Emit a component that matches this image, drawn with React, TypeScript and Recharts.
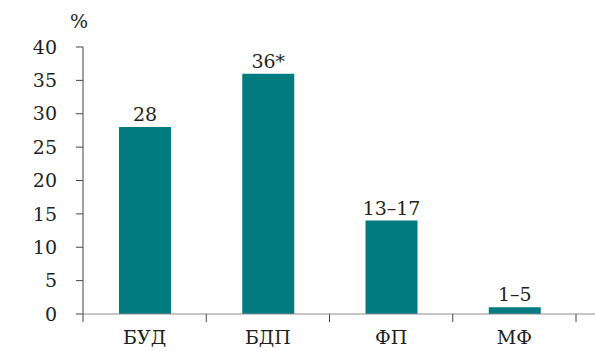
import { BarChart, Bar, XAxis, YAxis, LabelList } from 'recharts'

const categories = ['БУД', 'БДП', 'ФП', 'МФ']
const values = [28, 36, 14, 1]
const valueLabels = ['28', '36*', '13–17', '1–5']
const yTicks = [0, 5, 10, 15, 20, 25, 30, 35, 40]

const data = categories.map((name, i) => ({ name, value: values[i], label: valueLabels[i] }))

const FONT = '"DejaVu Serif", "Liberation Serif", serif'
const TEXT = '#231f20'
const TEAL = '#007b80'

function CategoryTick(props: any) {
  const { x, y, payload, index } = props
  const band = 123.25
  const left = x - band / 2
  const last = index === categories.length - 1
  return (
    <g>
      <line x1={left} x2={left} y1={y - 8} y2={y} stroke="#444" strokeWidth={1} />
      {last && <line x1={left + band} x2={left + band} y1={y - 8} y2={y} stroke="#444" strokeWidth={1} />}
      <text x={x} y={y + 22} textAnchor="middle" fill={TEXT} style={{ fontFamily: FONT, fontSize: 19 }}>
        {payload.value}
      </text>
    </g>
  )
}

export default function App() {
  return (
    <div style={{ position: 'absolute', left: 0, top: 0, width: 595, height: 351, background: '#fff' }}>
      <div
        style={{
          position: 'absolute',
          left: 70,
          top: 10,
          fontFamily: FONT,
          fontSize: 19,
          color: TEXT,
        }}
      >
        %
      </div>
      <BarChart
        width={595}
        height={351}
        data={data}
        margin={{ top: 47, right: 0, left: 0, bottom: 0 }}
      >
        <XAxis
          dataKey="name"
          height={37}
          padding={{ left: 0, right: 19 }}
          axisLine={{ stroke: '#8c8c8c' }}
          tickLine={false}
          tick={<CategoryTick />}
          interval={0}
        />
        <YAxis
          width={83}
          domain={[0, 40]}
          ticks={yTicks}
          interval={0}
          axisLine={{ stroke: '#444' }}
          tickLine={{ stroke: '#444' }}
          tickSize={7}
          tickMargin={19}
          tick={{ fill: TEXT, style: { fontFamily: FONT, fontSize: 19 } }}
        />
        <Bar dataKey="value" fill={TEAL} barSize={52} isAnimationActive={false}>
          <LabelList
            dataKey="label"
            position="top"
            offset={6}
            fill={TEXT}
            style={{ fontFamily: FONT, fontSize: 19 }}
          />
        </Bar>
      </BarChart>
    </div>
  )
}
